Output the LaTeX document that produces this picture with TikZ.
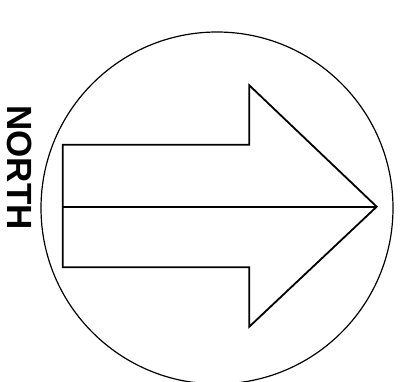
\documentclass[tikz,border=0pt]{standalone}
\usepackage{fontspec}
\setmainfont{Liberation Sans}
\usetikzlibrary{positioning}
\tikzset{
  rim/.style={draw,line width=1.2pt},
  arrowline/.style={draw,line width=1.8pt,line join=miter},
  axisline/.style={draw,line width=2.2pt},
  label/.style={font=\fontsize{35}{35}\selectfont\bfseries,rotate=-90,inner sep=0pt}
}

\begin{document}
\begin{tikzpicture}[x=1pt,y=-1pt]
  \useasboundingbox (0,0) rectangle (405,382);
  \clip (0,0) rectangle (405,382);
  \coordinate (c) at (217,208);
  \draw[rim] (c) circle (176);

  \coordinate (tail) at (62.7,206.7);
  \coordinate (tip) at (376.7,206.7);
  \draw[arrowline] (62.7,144.7) -- (249.3,144.7) -- (249.3,85.3) -- (tip)
    -- (249.3,326.7) -- (249.3,267.3) -- (62.7,267.3) -- cycle;
  \draw[axisline] (tail) -- (tip);

  \node[label] (north) at (19.5,167.5) {NORTH};
\end{tikzpicture}
\end{document}
